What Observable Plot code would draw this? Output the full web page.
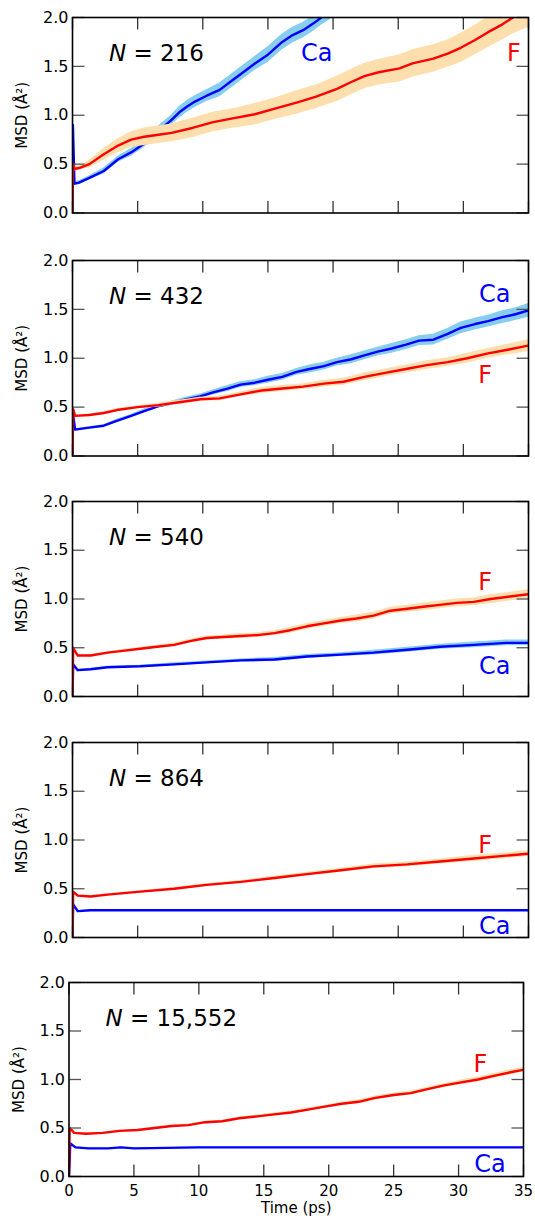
<!DOCTYPE html>
<html><head><meta charset="utf-8">
<script src="https://cdn.jsdelivr.net/npm/d3@7"></script>
<script src="https://cdn.jsdelivr.net/npm/@observablehq/plot@0.6"></script>
<style>
body{margin:0;background:#fff;}
#chart{position:relative;width:535px;height:1222px;overflow:hidden;background:#fff;}
.panel{position:absolute;left:0;}
.panel svg{font-family:"DejaVu Sans",sans-serif;font-size:15px;color:#000;background:transparent;}
g[aria-label="msd-label"] text{letter-spacing:2px;}
</style></head><body><div id="chart"></div><script>
// [time (ps), MSD (Å²), half-width of shaded band]
const ca216 = [[0,0,0],[0.03,0.9,0],[0.15,0.3,0.02],[0.5,0.31,0.02],[1.3,0.36,0.02],[2.4,0.43,0.03],[3.5,0.55,0.03],[4.5,0.62,0.04],[5.5,0.71,0.04],[6.5,0.83,0.05],[7.5,0.94,0.05],[8.2,1.03,0.06],[8.8,1.09,0.06],[9.4,1.14,0.06],[10.3,1.2,0.06],[11.3,1.26,0.07],[12.4,1.37,0.07],[12.9,1.42,0.07],[14,1.53,0.07],[15,1.62,0.08],[16.1,1.75,0.08],[16.9,1.82,0.08],[17.7,1.87,0.08],[18.5,1.94,0.08],[19.1,2.0,0.08],[19.8,2.06,0.08]];
const f216 = [[0,0,0],[0.05,0.5,0],[0.15,0.45,0.02],[0.5,0.46,0.02],[1.3,0.5,0.04],[2.4,0.6,0.06],[3.5,0.69,0.07],[4.5,0.75,0.08],[5.5,0.78,0.09],[6.6,0.8,0.09],[7.6,0.82,0.09],[9.2,0.87,0.1],[10.8,0.93,0.1],[12.4,0.97,0.1],[14,1.01,0.11],[15.6,1.07,0.11],[17.2,1.13,0.12],[18.7,1.19,0.12],[20.3,1.27,0.13],[21.4,1.34,0.13],[22.4,1.4,0.13],[23.5,1.44,0.13],[25.1,1.48,0.14],[26.1,1.53,0.14],[27.7,1.58,0.14],[28.8,1.63,0.14],[29.8,1.69,0.15],[30.9,1.77,0.15],[31.9,1.85,0.16],[33,1.93,0.16],[33.8,2.0,0.17],[35,2.07,0.17]];
const ca432 = [[0,0,0],[0.05,0.42,0],[0.2,0.27,0.01],[1.3,0.29,0.01],[2.4,0.31,0.01],[3.4,0.36,0.015],[4.5,0.41,0.015],[5.5,0.46,0.02],[6.6,0.51,0.02],[7.6,0.54,0.02],[8.7,0.58,0.02],[9.8,0.61,0.025],[10.8,0.65,0.025],[11.9,0.69,0.03],[12.9,0.73,0.03],[14,0.75,0.03],[15,0.78,0.035],[16.1,0.81,0.035],[17.2,0.86,0.035],[18.2,0.89,0.04],[19.3,0.92,0.04],[20.3,0.96,0.04],[21.4,0.99,0.045],[22.4,1.03,0.045],[23.5,1.07,0.045],[24.5,1.1,0.05],[25.6,1.14,0.05],[26.6,1.18,0.05],[27.7,1.19,0.055],[28.8,1.25,0.055],[29.8,1.31,0.06],[30.9,1.35,0.06],[31.9,1.38,0.06],[33,1.42,0.065],[34,1.45,0.065],[35,1.49,0.07]];
const f432 = [[0,0,0],[0.05,0.48,0],[0.2,0.41,0.01],[1.3,0.42,0.01],[2.4,0.44,0.01],[3.4,0.47,0.015],[5,0.5,0.015],[6.6,0.52,0.02],[8.2,0.55,0.02],[9.8,0.58,0.02],[11.3,0.59,0.025],[12.9,0.63,0.025],[14.5,0.67,0.03],[16.1,0.69,0.03],[17.7,0.71,0.03],[19.3,0.74,0.035],[20.8,0.76,0.035],[22.4,0.81,0.04],[24,0.85,0.04],[25.6,0.89,0.04],[27.2,0.93,0.045],[28.8,0.96,0.045],[30.3,1.0,0.05],[31.9,1.05,0.05],[33.5,1.09,0.055],[35,1.13,0.06]];
const ca540 = [[0,0,0],[0.05,0.33,0],[0.4,0.27,0.01],[1.4,0.28,0.01],[2.7,0.3,0.01],[5.2,0.31,0.01],[7.8,0.33,0.015],[10.3,0.35,0.015],[12.9,0.37,0.015],[15.5,0.38,0.02],[18,0.41,0.02],[20.6,0.43,0.02],[23.1,0.45,0.025],[25.7,0.48,0.025],[28.2,0.51,0.025],[30.8,0.53,0.03],[33.3,0.55,0.03],[35,0.55,0.03]];
const f540 = [[0,0,0],[0.05,0.5,0],[0.4,0.42,0.01],[1.4,0.42,0.01],[2.7,0.45,0.01],[4,0.47,0.015],[5.2,0.49,0.015],[6.5,0.51,0.015],[7.8,0.53,0.02],[9.1,0.57,0.02],[10.3,0.6,0.02],[11.6,0.61,0.02],[12.9,0.62,0.025],[14.2,0.63,0.025],[15.5,0.65,0.025],[16.7,0.68,0.03],[18,0.72,0.03],[19.3,0.75,0.03],[20.6,0.78,0.03],[21.8,0.8,0.035],[23.1,0.83,0.035],[24.4,0.88,0.035],[25.7,0.9,0.035],[26.9,0.92,0.04],[28.2,0.94,0.04],[29.5,0.96,0.04],[30.8,0.97,0.04],[32.1,1.0,0.045],[33.3,1.02,0.045],[35,1.05,0.045]];
const ca864 = [[0,0,0],[0.05,0.34,0],[0.4,0.27,0.005],[1.4,0.28,0.005],[3,0.28,0.005],[5,0.28,0.005],[10,0.28,0.005],[15,0.28,0.005],[20,0.28,0.005],[25,0.28,0.005],[30,0.28,0.005],[35,0.28,0.005]];
const f864 = [[0,0,0],[0.05,0.47,0],[0.4,0.43,0.01],[1.4,0.42,0.01],[2.7,0.44,0.01],[5.2,0.47,0.01],[7.8,0.5,0.015],[10.3,0.54,0.015],[12.9,0.57,0.015],[15.5,0.61,0.02],[18,0.65,0.02],[20.6,0.69,0.02],[23.1,0.73,0.025],[25.7,0.75,0.025],[28.2,0.78,0.025],[30.8,0.81,0.03],[33.3,0.84,0.03],[35,0.86,0.03]];
const ca15552 = [[0,0,0],[0.1,0.34,0],[0.5,0.3,0.005],[1.5,0.29,0.005],[3,0.29,0.005],[4,0.3,0.005],[5,0.29,0.005],[10,0.3,0.005],[15,0.3,0.005],[20,0.3,0.005],[25,0.3,0.005],[30,0.3,0.005],[35,0.3,0.005]];
const f15552 = [[0,0,0],[0.05,0.5,0],[0.4,0.45,0.005],[1.3,0.44,0.005],[2.6,0.45,0.005],[3.9,0.47,0.005],[5.3,0.48,0.01],[6.6,0.5,0.01],[7.9,0.52,0.01],[9.2,0.53,0.01],[10.5,0.56,0.01],[11.8,0.57,0.01],[13.1,0.6,0.01],[14.5,0.62,0.015],[15.8,0.64,0.015],[17.1,0.66,0.015],[18.4,0.69,0.015],[19.7,0.72,0.015],[21,0.75,0.015],[22.3,0.77,0.02],[23.6,0.81,0.02],[25,0.84,0.02],[26.3,0.86,0.02],[27.6,0.9,0.02],[28.9,0.94,0.02],[30.2,0.97,0.025],[31.5,1.0,0.025],[32.8,1.04,0.025],[34.2,1.08,0.025],[35,1.1,0.025]];

const systemSizes = ["216", "432", "540", "864", "15,552"];
// label anchor points [time, MSD] (text baseline start)
const caLabelAt = [[17.53,1.56],[31.2,1.577],[31.2,0.232],[31.2,0.04],[31.2,0.05]];
const fLabelAt = [[33.35,1.55],[31.15,0.75],[31.15,1.094],[31.15,0.87],[31.15,1.077]];
const xTicks = [0,5,10,15,20,25,30,35];
const yTicks = [0,0.5,1.0,1.5,2.0];
const X_DOMAIN = [0, 35], Y_DOMAIN = [0, 2];

const caSeries = [ca216, ca432, ca540, ca864, ca15552];
const fSeries = [f216, f432, f540, f864, f15552];

const layout = [
  {top:16.5, left:72, right:528, h:195.5},
  {top:259.5, left:72, right:528, h:195.5},
  {top:501, left:72, right:528, h:195},
  {top:741.5, left:72, right:528, h:195},
  {top:982, left:68.5, right:523, h:194}
];

const BLUE = "#0000ff", RED = "#ff0000", BAND_BLUE = "#86cdf0", BAND_ORANGE = "#fddfae";
const TICK = 12; // tick length in pixels (inward)
const toObj = a => a.map(([t, v, e]) => ({t, v, lo: v - e, hi: v + e}));

const chart = document.getElementById("chart");
layout.forEach((L, i) => {
  const last = i === layout.length - 1;
  const ca = toObj(caSeries[i]), f = toObj(fSeries[i]);
  const mt = 10, mb = last ? 40 : 10;
  const w = L.right - L.left;
  // tick length converted from pixels into each scale's units
  const ky = TICK * (Y_DOMAIN[1] - Y_DOMAIN[0]) / L.h;
  const kx = TICK * (X_DOMAIN[1] - X_DOMAIN[0]) / w;
  const xt = xTicks.map(v => ({v}));
  const yt = yTicks.map(v => ({v}));
  const marks = [
    Plot.areaY(ca, {x: "t", y1: "lo", y2: "hi", fill: BAND_BLUE, clip: true}),
    Plot.lineY(ca, {x: "t", y: "v", stroke: BLUE, strokeWidth: 2.4, clip: true}),
    Plot.areaY(f, {x: "t", y1: "lo", y2: "hi", fill: BAND_ORANGE, clip: true}),
    Plot.lineY(f, {x: "t", y: "v", stroke: RED, strokeWidth: 2.4, clip: true}),
    Plot.text([caLabelAt[i]], {x: d => d[0], y: d => d[1], text: () => "Ca", fill: BLUE, fontSize: 24, textAnchor: "start", lineAnchor: "bottom"}),
    Plot.text([fLabelAt[i]], {x: d => d[0], y: d => d[1], text: () => "F", fill: RED, fontSize: 24, textAnchor: "start", lineAnchor: "bottom"}),
    Plot.text(["N"], {text: d => d, frameAnchor: "top-left", dx: 36.5, dy: 43, fontSize: 23, fontStyle: "italic", textAnchor: "start", lineAnchor: "bottom", fill: "#000"}),
    Plot.text([systemSizes[i]], {text: d => "= " + d, frameAnchor: "top-left", dx: 61, dy: 43, fontSize: 23, textAnchor: "start", lineAnchor: "bottom", fill: "#000"}),
    Plot.text(["MSD (Å²)"], {text: d => d, frameAnchor: "left", dx: -50, rotate: -90, fontSize: 15, textAnchor: "middle", lineAnchor: "middle", fill: "#000", ariaLabel: "msd-label"}),
    // inward ticks on all four sides (path-based links)
    Plot.link(xt, {x1: "v", x2: "v", y1: () => Y_DOMAIN[0], y2: () => Y_DOMAIN[0] + ky, stroke: "#333", strokeWidth: 1.3}),
    Plot.link(xt, {x1: "v", x2: "v", y1: () => Y_DOMAIN[1], y2: () => Y_DOMAIN[1] - ky, stroke: "#333", strokeWidth: 1.3}),
    Plot.link(yt, {y1: "v", y2: "v", x1: () => X_DOMAIN[0], x2: () => X_DOMAIN[0] + kx, stroke: "#555", strokeWidth: 1.3}),
    Plot.link(yt, {y1: "v", y2: "v", x1: () => X_DOMAIN[1], x2: () => X_DOMAIN[1] - kx, stroke: "#555", strokeWidth: 1.3}),
    Plot.frame({stroke: "#000", strokeWidth: 1.6}),
    Plot.axisY({ticks: yTicks.slice(), anchor: "left", tickSize: 0, tickPadding: 4, tickFormat: d3.format(".1f"), label: null, fontSize: 16, fill: "#000"})
  ];
  if (last) {
    marks.push(Plot.axisX({ticks: xTicks.slice(), anchor: "bottom", tickSize: 0, tickPadding: 9, tickFormat: d => String(d), label: null, fontSize: 15, fill: "#000"}));
    marks.push(Plot.text(["Time (ps)"], {text: d => d, frameAnchor: "bottom", dy: 32, fontSize: 15, textAnchor: "middle", lineAnchor: "middle", fill: "#000"}));
  }
  const svg = Plot.plot({
    width: 535,
    height: mt + L.h + mb,
    marginTop: mt, marginBottom: mb, marginLeft: L.left, marginRight: 535 - L.right,
    x: {domain: X_DOMAIN, axis: last ? undefined : null},
    y: {domain: Y_DOMAIN},
    marks
  });
  const wrap = document.createElement("div");
  wrap.className = "panel";
  wrap.style.top = (L.top - mt) + "px";
  wrap.appendChild(svg);
  chart.appendChild(wrap);
});
</script></body></html>
